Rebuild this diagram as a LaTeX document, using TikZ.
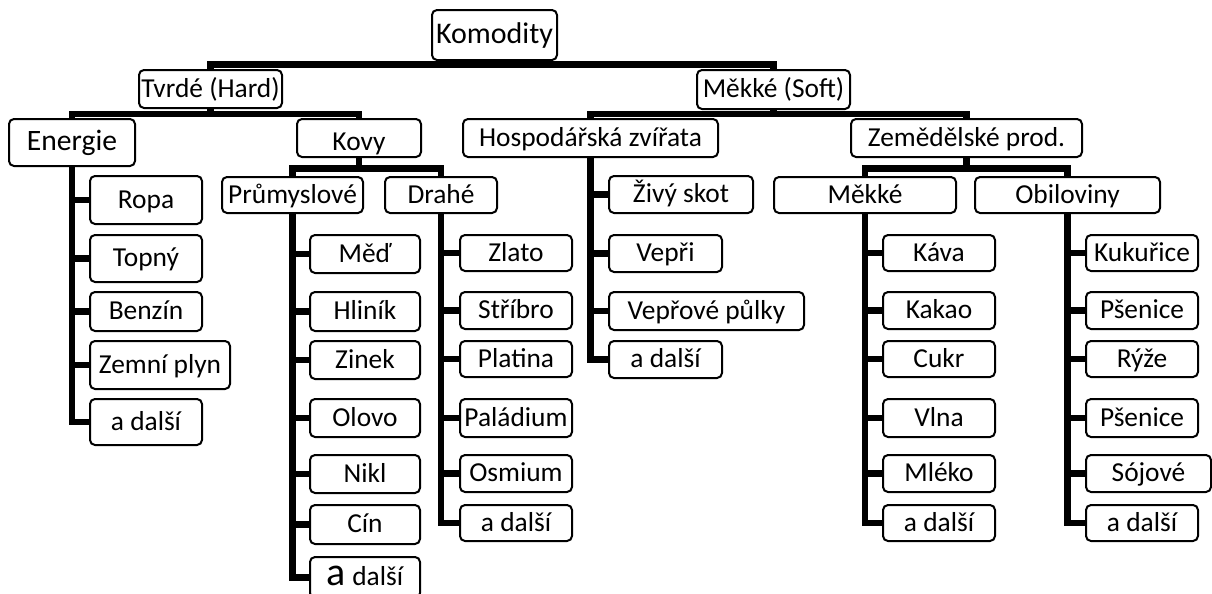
\documentclass[tikz,border=0pt]{standalone}
\usepackage{fontspec}
\setmainfont{Carlito}
\usetikzlibrary{backgrounds}
\newcommand{\bigtxt}{\fontsize{15pt}{17pt}\selectfont}
\newcommand{\hugetxt}{\fontsize{14.8pt}{17pt}\selectfont}
% box given by its corners (x1,y1)-(x2,y2) in pixel units
\newcommand{\kbox}[6]{\node[kb, minimum width={(#4-#2)*0.5pt}, minimum height={(#5-#3)*0.5pt}] (#1) at ({(#2+#4)/2},{(#3+#5)/2}) {#6};}
\tikzset{
  kb/.style={draw=black, line width=1pt, rounded corners=2.5pt, fill=white,
    inner sep=0pt, outer sep=0pt, text height=9pt, text depth=0.6pt,
    font=\fontsize{13.7pt}{16pt}\selectfont},
  link/.style={draw=black, line width=3.3pt, line join=miter}
}
\begin{document}
\begin{tikzpicture}[x=0.5pt,y=-0.5pt]
\useasboundingbox (0,0) rectangle (1212,594);

% top levels
\kbox{kom}{432}{10}{557}{60}{\bigtxt Komodity}
\kbox{tvr}{139}{70}{282}{108}{Tvrdé (Hard)}
\kbox{mek}{697}{70}{850}{109}{Měkké (Soft)}
\kbox{ene}{9}{119}{135}{166}{\hugetxt Energie}
\kbox{kov}{297}{119}{421}{157}{\raisebox{-2pt}{Kovy}}
\kbox{hos}{463}{119}{718}{157}{Hospodářská zvířata}
\kbox{zem}{851}{119}{1082}{157}{Zemědělské prod.}
\kbox{pru}{222}{177}{363}{213}{Průmyslové}
\kbox{dra}{385}{177}{497}{213}{Drahé}
\kbox{mk}{774}{177}{956}{213}{Měkké}
\kbox{obi}{975}{177}{1160}{213}{Obiloviny}

% energy
\kbox{e1}{90}{176}{202}{224}{Ropa}
\kbox{e2}{90}{235}{202}{282}{Topný}
\kbox{e3}{90}{292}{202}{331}{Benzín}
\kbox{e4}{90}{341}{230}{389}{Zemní plyn}
\kbox{e5}{90}{399}{202}{445}{a další}

% industrial metals
\kbox{p1}{310}{235}{420}{273}{Měď}
\kbox{p2}{310}{292}{420}{331}{Hliník}
\kbox{p3}{310}{341}{420}{379}{Zinek}
\kbox{p4}{310}{399}{420}{437}{Olovo}
\kbox{p5}{310}{455}{420}{493}{Nikl}
\kbox{p6}{310}{505}{420}{544}{Cín}
\kbox{p7}{310}{557}{420}{598}{{\fontsize{20pt}{20pt}\selectfont a} další}

% precious metals
\kbox{d1}{460}{235}{572}{271}{Zlato}
\kbox{d2}{460}{292}{572}{329}{Stříbro}
\kbox{d3}{460}{341}{572}{377}{Platina}
\kbox{d4}{460}{399}{572}{437}{Paládium}
\kbox{d5}{460}{455}{572}{492}{Osmium}
\kbox{d6}{460}{505}{572}{541}{a další}

% livestock
\kbox{h1}{609}{176}{753}{213}{Živý skot}
\kbox{h2}{609}{235}{722}{272}{Vepři}
\kbox{h3}{609}{292}{804}{330}{Vepřové půlky}
\kbox{h4}{609}{341}{722}{378}{a další}

% softs
\kbox{m1}{883}{235}{995}{271}{Káva}
\kbox{m2}{883}{292}{995}{329}{Kakao}
\kbox{m3}{883}{341}{995}{377}{Cukr}
\kbox{m4}{883}{399}{995}{437}{Vlna}
\kbox{m5}{883}{455}{995}{492}{Mléko}
\kbox{m6}{883}{505}{995}{541}{a další}

% grains
\kbox{o1}{1086}{235}{1198}{271}{Kukuřice}
\kbox{o2}{1086}{292}{1198}{329}{Pšenice}
\kbox{o3}{1086}{341}{1198}{377}{Rýže}
\kbox{o4}{1086}{399}{1198}{437}{Pšenice}
\kbox{o5}{1086}{455}{1211}{492}{Sójové}
\kbox{o6}{1086}{505}{1198}{541}{a další}

% bar heights
\coordinate (b0) at (0,64.5);
\coordinate (b1) at (0,113.8);
\coordinate (b2) at (0,168.5);

\begin{scope}[on background layer]
  \draw[link] (kom.south) -- (kom.south |- b0);
  \draw[link] (tvr.north) |- (mek.north |- b0) -- (mek.north);
  \draw[link] (tvr.south) -- (tvr.south |- b1);
  \draw[link] (ene.north) |- (kov.north |- b1) -- (kov.north);
  \draw[link] (mek.south) -- (mek.south |- b1);
  \draw[link] (hos.north) |- (zem.north |- b1) -- (zem.north);
  \draw[link] (kov.south) -- (kov.south |- b2);
  \draw[link] (pru.north) |- (dra.north |- b2) -- (dra.north);
  \draw[link] (zem.south) -- (zem.south |- b2);
  \draw[link] (mk.north) |- (obi.north |- b2) -- (obi.north);

  \draw[link] (ene.south) |- (e5.west);
  \foreach \c in {e1,e2,e3,e4} \draw[link] (\c.west) -- (\c.west -| ene.south);
  \draw[link] (pru.south) |- (p7.west);
  \foreach \c in {p1,p2,p3,p4,p5,p6} \draw[link] (\c.west) -- (\c.west -| pru.south);
  \draw[link] (dra.south) |- (d6.west);
  \foreach \c in {d1,d2,d3,d4,d5} \draw[link] (\c.west) -- (\c.west -| dra.south);
  \draw[link] (hos.south) |- (h4.west);
  \foreach \c in {h1,h2,h3} \draw[link] (\c.west) -- (\c.west -| hos.south);
  \draw[link] (mk.south) |- (m6.west);
  \foreach \c in {m1,m2,m3,m4,m5} \draw[link] (\c.west) -- (\c.west -| mk.south);
  \draw[link] (obi.south) |- (o6.west);
  \foreach \c in {o1,o2,o3,o4,o5} \draw[link] (\c.west) -- (\c.west -| obi.south);
\end{scope}
\end{tikzpicture}
\end{document}
